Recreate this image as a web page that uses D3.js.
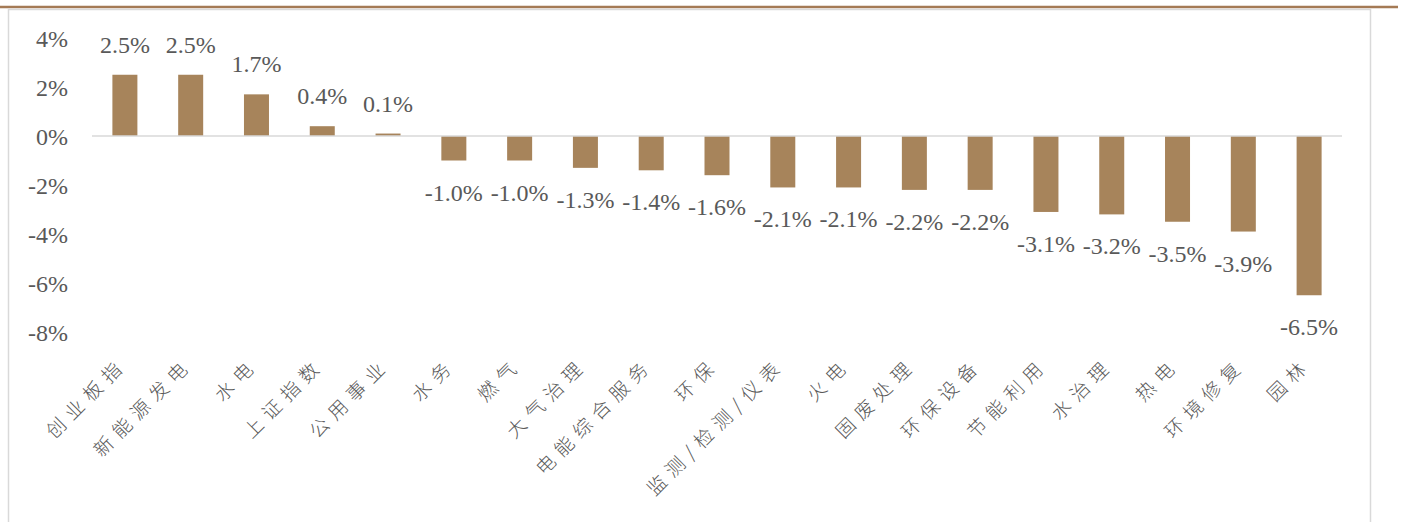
<!DOCTYPE html>
<html>
<head>
<meta charset="utf-8">
<script src="https://cdn.jsdelivr.net/npm/d3@7"></script>
<style>
  html, body { margin: 0; padding: 0; background: #fff; }
  svg { display: block; }
</style>
</head>
<body>
<svg id="chart" width="1402" height="522"></svg>
<script>
// Weekly sector returns (%), sorted from best to worst
const categories = ["创业板指", "新能源发电", "水电", "上证指数", "公用事业", "水务", "燃气", "大气治理", "电能综合服务", "环保", "监测/检测/仪表", "火电", "固废处理", "环保设备", "节能利用", "水治理", "热电", "环境修复", "园林"];
const values = [2.5, 2.5, 1.7, 0.4, 0.1, -1.0, -1.0, -1.3, -1.4, -1.6, -2.1, -2.1, -2.2, -2.2, -3.1, -3.2, -3.5, -3.9, -6.5];
const yTicks = [4, 2, 0, -2, -4, -6, -8];

const svg = d3.select("#chart");
const textColor = "#595959";
const barColor = "#A7845B";
const serif = "'Liberation Serif', 'DejaVu Serif', serif";
const cjk = "'Noto Sans CJK SC', sans-serif";

// Frame: brown rule across the top, light grey box below it
svg.append("line").attr("x1", 0).attr("x2", 1398).attr("y1", 7).attr("y2", 7)
  .attr("stroke", "#A47A55").attr("stroke-width", 2.5);
svg.append("path").attr("d", "M8.5,522 V9.5 H1370.5 V522")
  .attr("fill", "none").attr("stroke", "#D9D9D9").attr("stroke-width", 1.5);

const x = d3.scaleBand().domain(categories).range([92, 1342]).paddingInner(0.62).paddingOuter(0.31);
const y = d3.scaleLinear().domain([-8, 4]).range([332, 38]);

// Y axis tick labels
const yAxis = d3.axisLeft(y).tickValues(yTicks).tickFormat(d => d + "%").tickSize(0).tickPadding(0);
const gy = svg.append("g").attr("transform", "translate(68,0)").call(yAxis);
gy.select(".domain").remove();
gy.selectAll("text").attr("font-family", serif).attr("font-size", 24).attr("fill", textColor)
  .attr("dy", "0.35em");

// Bars
svg.append("g").selectAll("rect").data(values).join("rect")
  .attr("x", (d, i) => x(categories[i]))
  .attr("width", x.bandwidth())
  .attr("y", d => y(Math.max(0, d)))
  .attr("height", d => Math.abs(y(d) - y(0)))
  .attr("fill", barColor);

// Zero line
svg.append("line").attr("x1", 92).attr("x2", 1342).attr("y1", y(0)).attr("y2", y(0))
  .attr("stroke", "#D9D9D9").attr("stroke-width", 1.5);

// Value labels
svg.append("g").selectAll("text").data(values).join("text")
  .attr("x", (d, i) => x(categories[i]) + x.bandwidth() / 2)
  .attr("y", d => d >= 0 ? y(d) - 22 : y(d) + 40)
  .attr("text-anchor", "middle")
  .attr("font-family", serif).attr("font-size", 24).attr("fill", textColor)
  .text(d => d.toFixed(1) + "%");

// Category labels, rotated 45 degrees
const xAxis = d3.axisBottom(x).tickSize(0).tickPadding(0);
const gx = svg.append("g").call(xAxis);
gx.select(".domain").remove();
gx.selectAll(".tick text")
  .attr("font-family", cjk).attr("font-size", 19).attr("font-weight", 300).attr("fill", textColor)
  .attr("letter-spacing", 7)
  .attr("text-anchor", "end")
  .attr("dy", 0).attr("y", 0)
  .attr("transform", "translate(3,366) rotate(-45)");
</script>
</body>
</html>
